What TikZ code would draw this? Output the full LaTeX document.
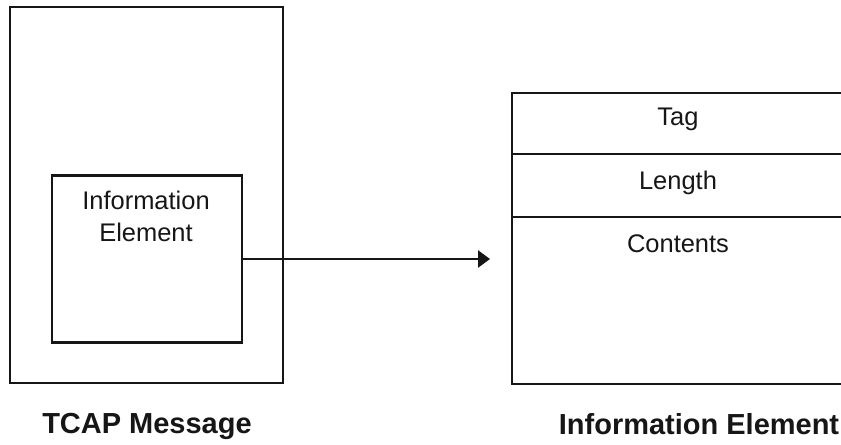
\documentclass[tikz,border=0pt]{standalone}
\usepackage{fontspec}
\setmainfont{Liberation Sans}
\usetikzlibrary{arrows.meta}
\definecolor{TCInk}{HTML}{161616}

\tikzset{
  frame/.style={draw=TCInk,line width=1.4pt,inner sep=0pt},
  fieldtext/.style={anchor=base,text=TCInk,font=\fontsize{14.5}{18.1}\selectfont},
  caption/.style={anchor=base,text=TCInk,font=\fontsize{16.5}{20}\selectfont\bfseries},
}

\begin{document}
\begin{tikzpicture}[x=0.02cm,y=-0.02cm]
\path[use as bounding box] (0,0) rectangle (841,444);
\clip (0,0) rectangle (841,444);
% TCAP message with its information element
\node[frame,minimum width=5.46cm,minimum height=7.52cm] (msg) at (146.5,195) {};
\node[frame,minimum width=3.80cm,minimum height=3.34cm] (ie) at (147,259) {};
\node[fieldtext,align=center] (ielabel) at (146,241) {Information\\Element};
% information element fields, open to the right
\node[frame,minimum width=6.96cm,minimum height=1.22cm] (tag) at (686,123.5) {};
\node[frame,minimum width=6.96cm,minimum height=1.26cm] (len) at (686,185.5) {};
\node[frame,minimum width=6.96cm,minimum height=3.34cm] (cont) at (686,300.5) {};
\node[fieldtext] (taglabel) at (678,125) {Tag};
\node[fieldtext] (lenlabel) at (678,189) {Length};
\node[fieldtext] (contlabel) at (678,252) {Contents};
% arrow
\coordinate (tip) at (490,259);
\draw[frame,-{Triangle[length=0.24cm,width=0.34cm]}] (ie.east) -- (tip);
% captions
\node[caption] (msgcap) at (147,433) {TCAP Message};
\node[caption] (iecap) at (699,434) {Information Element};
\end{tikzpicture}
\end{document}
